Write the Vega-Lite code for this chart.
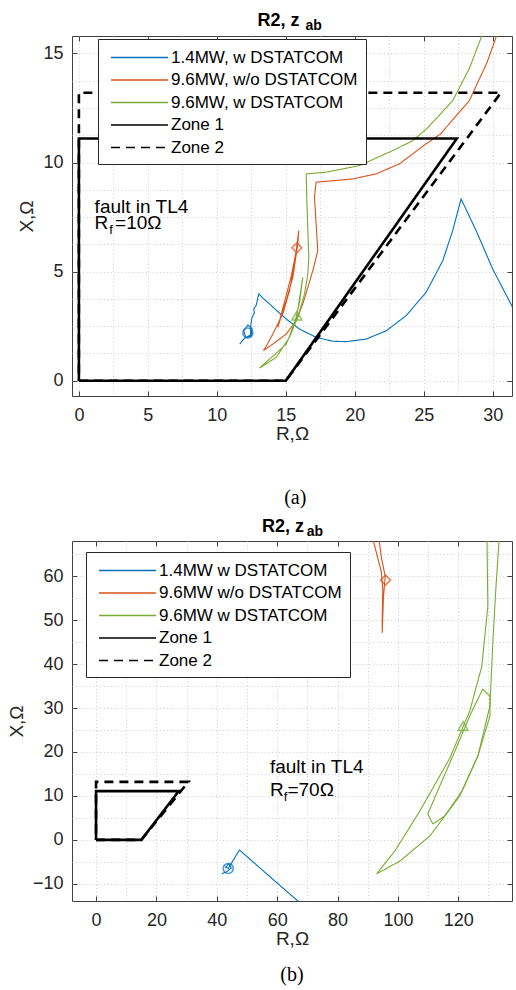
{
  "$schema": "https://vega.github.io/schema/vega-lite/v6.json",
  "padding": {"left": 6, "top": 11, "right": 4, "bottom": 2},
  "autosize": {"type": "pad"},
  "background": "white",
  "config": {
    "font": "Liberation Sans",
    "view": {"stroke": "#404040", "strokeWidth": 1},
    "axis": {
      "labelFont": "Liberation Sans", "labelFontSize": 18, "labelColor": "#262626",
      "titleFont": "Liberation Sans", "titleFontSize": 19, "titleFontWeight": "normal", "titleColor": "#262626",
      "domain": false, "tickColor": "#404040", "tickSize": -5, "tickWidth": 1,
      "gridColor": "#cfcfcf", "gridDash": [1, 2.5], "gridWidth": 1
    },
    "legend": {
      "orient": "none", "title": null, "fillColor": "white", "strokeColor": "#262626",
      "padding": 8, "labelFont": "Liberation Sans", "labelFontSize": 17, "labelColor": "#000", "labelLimit": 400,
      "symbolType": "M-1,0H5", "symbolSize": 361, "symbolStrokeWidth": 1.6, "labelOffset": 40, "rowPadding": 3.5, "symbolOffset": 4
    }
  },
  "datasets": {
    "zones": [
      {"series": "Zone 1", "R": 0, "X": 0, "o": 0},
      {"series": "Zone 1", "R": 15, "X": 0, "o": 1},
      {"series": "Zone 1", "R": 27.4, "X": 11.1, "o": 2},
      {"series": "Zone 1", "R": 0, "X": 11.1, "o": 3},
      {"series": "Zone 1", "R": 0, "X": 0, "o": 4},
      {"series": "Zone 2", "R": 0, "X": 0, "o": 0},
      {"series": "Zone 2", "R": 15, "X": 0, "o": 1},
      {"series": "Zone 2", "R": 30.6, "X": 13.2, "o": 2},
      {"series": "Zone 2", "R": 0, "X": 13.2, "o": 3},
      {"series": "Zone 2", "R": 0, "X": 0, "o": 4}
    ],
    "curvesA": [
      {"series": "1.4MW, w DSTATCOM", "seg": 0, "R": 11.66, "X": 1.68, "o": 0},
      {"series": "1.4MW, w DSTATCOM", "seg": 0, "R": 12.0, "X": 1.95, "o": 1},
      {"series": "1.4MW, w DSTATCOM", "seg": 0, "R": 12.5, "X": 2.05, "o": 2},
      {"series": "1.4MW, w DSTATCOM", "seg": 0, "R": 12.55, "X": 2.4, "o": 3},
      {"series": "1.4MW, w DSTATCOM", "seg": 0, "R": 12.25, "X": 2.55, "o": 4},
      {"series": "1.4MW, w DSTATCOM", "seg": 0, "R": 11.95, "X": 2.3, "o": 5},
      {"series": "1.4MW, w DSTATCOM", "seg": 0, "R": 12.1, "X": 1.98, "o": 6},
      {"series": "1.4MW, w DSTATCOM", "seg": 0, "R": 12.45, "X": 2.1, "o": 7},
      {"series": "1.4MW, w DSTATCOM", "seg": 0, "R": 12.45, "X": 2.5, "o": 8},
      {"series": "1.4MW, w DSTATCOM", "seg": 0, "R": 12.55, "X": 2.9, "o": 9},
      {"series": "1.4MW, w DSTATCOM", "seg": 0, "R": 12.72, "X": 3.1, "o": 10},
      {"series": "1.4MW, w DSTATCOM", "seg": 0, "R": 12.68, "X": 3.3, "o": 11},
      {"series": "1.4MW, w DSTATCOM", "seg": 0, "R": 12.85, "X": 3.45, "o": 12},
      {"series": "1.4MW, w DSTATCOM", "seg": 0, "R": 13.04, "X": 3.98, "o": 13},
      {"series": "1.4MW, w DSTATCOM", "seg": 0, "R": 13.4, "X": 3.75, "o": 14},
      {"series": "1.4MW, w DSTATCOM", "seg": 0, "R": 13.82, "X": 3.52, "o": 15},
      {"series": "1.4MW, w DSTATCOM", "seg": 0, "R": 14.4, "X": 3.18, "o": 16},
      {"series": "1.4MW, w DSTATCOM", "seg": 0, "R": 15.03, "X": 2.83, "o": 17},
      {"series": "1.4MW, w DSTATCOM", "seg": 0, "R": 15.99, "X": 2.37, "o": 18},
      {"series": "1.4MW, w DSTATCOM", "seg": 0, "R": 17.2, "X": 1.99, "o": 19},
      {"series": "1.4MW, w DSTATCOM", "seg": 0, "R": 18.41, "X": 1.81, "o": 20},
      {"series": "1.4MW, w DSTATCOM", "seg": 0, "R": 19.38, "X": 1.79, "o": 21},
      {"series": "1.4MW, w DSTATCOM", "seg": 0, "R": 20.83, "X": 1.91, "o": 22},
      {"series": "1.4MW, w DSTATCOM", "seg": 0, "R": 22.28, "X": 2.29, "o": 23},
      {"series": "1.4MW, w DSTATCOM", "seg": 0, "R": 23.72, "X": 2.98, "o": 24},
      {"series": "1.4MW, w DSTATCOM", "seg": 0, "R": 25.17, "X": 4.05, "o": 25},
      {"series": "1.4MW, w DSTATCOM", "seg": 0, "R": 26.38, "X": 5.5, "o": 26},
      {"series": "1.4MW, w DSTATCOM", "seg": 0, "R": 27.1, "X": 6.88, "o": 27},
      {"series": "1.4MW, w DSTATCOM", "seg": 0, "R": 27.71, "X": 8.33, "o": 28},
      {"series": "1.4MW, w DSTATCOM", "seg": 0, "R": 28.8, "X": 6.88, "o": 29},
      {"series": "1.4MW, w DSTATCOM", "seg": 0, "R": 30.0, "X": 5.12, "o": 30},
      {"series": "1.4MW, w DSTATCOM", "seg": 0, "R": 31.57, "X": 3.21, "o": 31},

      {"series": "9.6MW, w/o DSTATCOM", "seg": 0, "R": 30.5, "X": 16.2, "o": 0},
      {"series": "9.6MW, w/o DSTATCOM", "seg": 0, "R": 29.6, "X": 14.6, "o": 1},
      {"series": "9.6MW, w/o DSTATCOM", "seg": 0, "R": 28.31, "X": 12.84, "o": 2},
      {"series": "9.6MW, w/o DSTATCOM", "seg": 0, "R": 26.2, "X": 11.3, "o": 3},
      {"series": "9.6MW, w/o DSTATCOM", "seg": 0, "R": 25.17, "X": 10.86, "o": 4},
      {"series": "9.6MW, w/o DSTATCOM", "seg": 0, "R": 23.24, "X": 9.94, "o": 5},
      {"series": "9.6MW, w/o DSTATCOM", "seg": 0, "R": 21.55, "X": 9.48, "o": 6},
      {"series": "9.6MW, w/o DSTATCOM", "seg": 0, "R": 19.86, "X": 9.25, "o": 7},
      {"series": "9.6MW, w/o DSTATCOM", "seg": 0, "R": 17.93, "X": 9.14, "o": 8},
      {"series": "9.6MW, w/o DSTATCOM", "seg": 0, "R": 17.2, "X": 9.1, "o": 9},
      {"series": "9.6MW, w/o DSTATCOM", "seg": 0, "R": 17.08, "X": 8.41, "o": 10},
      {"series": "9.6MW, w/o DSTATCOM", "seg": 0, "R": 17.2, "X": 7.19, "o": 11},
      {"series": "9.6MW, w/o DSTATCOM", "seg": 0, "R": 17.32, "X": 5.96, "o": 12},
      {"series": "9.6MW, w/o DSTATCOM", "seg": 0, "R": 16.96, "X": 5.05, "o": 13},
      {"series": "9.6MW, w/o DSTATCOM", "seg": 0, "R": 16.6, "X": 4.28, "o": 14},
      {"series": "9.6MW, w/o DSTATCOM", "seg": 0, "R": 16.23, "X": 3.52, "o": 15},
      {"series": "9.6MW, w/o DSTATCOM", "seg": 0, "R": 15.75, "X": 2.75, "o": 16},
      {"series": "9.6MW, w/o DSTATCOM", "seg": 0, "R": 15.03, "X": 2.14, "o": 17},
      {"series": "9.6MW, w/o DSTATCOM", "seg": 0, "R": 14.06, "X": 1.68, "o": 18},
      {"series": "9.6MW, w/o DSTATCOM", "seg": 0, "R": 13.38, "X": 1.38, "o": 19},
      {"series": "9.6MW, w/o DSTATCOM", "seg": 0, "R": 13.6, "X": 1.6, "o": 20},
      {"series": "9.6MW, w/o DSTATCOM", "seg": 0, "R": 14.06, "X": 2.14, "o": 21},
      {"series": "9.6MW, w/o DSTATCOM", "seg": 0, "R": 14.78, "X": 3.06, "o": 22},
      {"series": "9.6MW, w/o DSTATCOM", "seg": 0, "R": 15.27, "X": 4.13, "o": 23},
      {"series": "9.6MW, w/o DSTATCOM", "seg": 0, "R": 15.63, "X": 5.35, "o": 24},
      {"series": "9.6MW, w/o DSTATCOM", "seg": 0, "R": 15.94, "X": 6.88, "o": 25},
      {"series": "9.6MW, w/o DSTATCOM", "seg": 0, "R": 15.87, "X": 6.27, "o": 26},
      {"series": "9.6MW, w/o DSTATCOM", "seg": 0, "R": 15.51, "X": 4.74, "o": 27},
      {"series": "9.6MW, w/o DSTATCOM", "seg": 0, "R": 15.03, "X": 3.67, "o": 28},
      {"series": "9.6MW, w/o DSTATCOM", "seg": 0, "R": 14.42, "X": 2.45, "o": 29},
      {"series": "9.6MW, w/o DSTATCOM", "seg": 0, "R": 14.9, "X": 3.6, "o": 30},
      {"series": "9.6MW, w/o DSTATCOM", "seg": 0, "R": 15.4, "X": 4.8, "o": 31},
      {"series": "9.6MW, w/o DSTATCOM", "seg": 0, "R": 15.8, "X": 6.09, "o": 32},

      {"series": "9.6MW, w DSTATCOM", "seg": 0, "R": 29.45, "X": 16.2, "o": 0},
      {"series": "9.6MW, w DSTATCOM", "seg": 0, "R": 28.3, "X": 14.3, "o": 1},
      {"series": "9.6MW, w DSTATCOM", "seg": 0, "R": 27.1, "X": 12.84, "o": 2},
      {"series": "9.6MW, w DSTATCOM", "seg": 0, "R": 25.3, "X": 11.6, "o": 3},
      {"series": "9.6MW, w DSTATCOM", "seg": 0, "R": 24.2, "X": 11.0, "o": 4},
      {"series": "9.6MW, w DSTATCOM", "seg": 0, "R": 22.75, "X": 10.55, "o": 5},
      {"series": "9.6MW, w DSTATCOM", "seg": 0, "R": 20.34, "X": 9.86, "o": 6},
      {"series": "9.6MW, w DSTATCOM", "seg": 0, "R": 17.93, "X": 9.56, "o": 7},
      {"series": "9.6MW, w DSTATCOM", "seg": 0, "R": 16.48, "X": 9.48, "o": 8},
      {"series": "9.6MW, w DSTATCOM", "seg": 0, "R": 16.52, "X": 8.41, "o": 9},
      {"series": "9.6MW, w DSTATCOM", "seg": 0, "R": 16.6, "X": 6.88, "o": 10},
      {"series": "9.6MW, w DSTATCOM", "seg": 0, "R": 16.67, "X": 5.66, "o": 11},
      {"series": "9.6MW, w DSTATCOM", "seg": 0, "R": 16.6, "X": 4.9, "o": 12},
      {"series": "9.6MW, w DSTATCOM", "seg": 0, "R": 16.36, "X": 3.98, "o": 13},
      {"series": "9.6MW, w DSTATCOM", "seg": 0, "R": 15.87, "X": 2.91, "o": 14},
      {"series": "9.6MW, w DSTATCOM", "seg": 0, "R": 15.27, "X": 1.99, "o": 15},
      {"series": "9.6MW, w DSTATCOM", "seg": 0, "R": 14.3, "X": 1.07, "o": 16},
      {"series": "9.6MW, w DSTATCOM", "seg": 0, "R": 13.1, "X": 0.58, "o": 17},
      {"series": "9.6MW, w DSTATCOM", "seg": 0, "R": 13.3, "X": 0.7, "o": 18},
      {"series": "9.6MW, w DSTATCOM", "seg": 0, "R": 14.2, "X": 1.2, "o": 19},
      {"series": "9.6MW, w DSTATCOM", "seg": 0, "R": 15.03, "X": 1.68, "o": 20},
      {"series": "9.6MW, w DSTATCOM", "seg": 0, "R": 15.75, "X": 2.75, "o": 21},
      {"series": "9.6MW, w DSTATCOM", "seg": 0, "R": 16.23, "X": 4.74, "o": 22},
      {"series": "9.6MW, w DSTATCOM", "seg": 0, "R": 16.0, "X": 3.6, "o": 23},
      {"series": "9.6MW, w DSTATCOM", "seg": 0, "R": 15.6, "X": 2.5, "o": 24},
      {"series": "9.6MW, w DSTATCOM", "seg": 0, "R": 15.3, "X": 2.1, "o": 25},
      {"series": "9.6MW, w DSTATCOM", "seg": 0, "R": 15.8, "X": 2.98, "o": 26}
    ],
    "markersA": [
      {"series": "1.4MW, w DSTATCOM", "R": 12.25, "X": 2.19},
      {"series": "9.6MW, w/o DSTATCOM", "R": 15.8, "X": 6.09},
      {"series": "9.6MW, w DSTATCOM", "R": 15.8, "X": 2.98}
    ],
    "textA": [
      {"t": "fault in TL4", "R": 1.14, "X": 7.7, "k": "line"},
      {"t": "R", "R": 1.14, "X": 6.97, "k": "line"},
      {"t": "f", "R": 2.2, "X": 6.74, "k": "sub"},
      {"t": "=10Ω", "R": 2.62, "X": 6.97, "k": "line"},
      {"t": "R2, z", "R": 12.95, "X": 16.28, "k": "title"},
      {"t": "ab", "R": 16.43, "X": 16.08, "k": "titlesub"}
    ],
    "curvesB": [
      {"series": "1.4MW w DSTATCOM", "seg": 0, "R": 41.6, "X": -7.7, "o": 0},
      {"series": "1.4MW w DSTATCOM", "seg": 0, "R": 43.2, "X": -7.3, "o": 1},
      {"series": "1.4MW w DSTATCOM", "seg": 0, "R": 44.8, "X": -6.4, "o": 2},
      {"series": "1.4MW w DSTATCOM", "seg": 0, "R": 44.0, "X": -5.4, "o": 3},
      {"series": "1.4MW w DSTATCOM", "seg": 0, "R": 42.9, "X": -6.2, "o": 4},
      {"series": "1.4MW w DSTATCOM", "seg": 0, "R": 43.8, "X": -6.5, "o": 5},
      {"series": "1.4MW w DSTATCOM", "seg": 0, "R": 47.5, "X": -2.3, "o": 6},
      {"series": "1.4MW w DSTATCOM", "seg": 0, "R": 70.0, "X": -15.8, "o": 7},

      {"series": "9.6MW w/o DSTATCOM", "seg": 0, "R": 91.5, "X": 69.0, "o": 0},
      {"series": "9.6MW w/o DSTATCOM", "seg": 0, "R": 93.0, "X": 65.0, "o": 1},
      {"series": "9.6MW w/o DSTATCOM", "seg": 0, "R": 94.5, "X": 61.0, "o": 2},
      {"series": "9.6MW w/o DSTATCOM", "seg": 0, "R": 95.0, "X": 57.0, "o": 3},
      {"series": "9.6MW w/o DSTATCOM", "seg": 0, "R": 94.8, "X": 50.0, "o": 4},
      {"series": "9.6MW w/o DSTATCOM", "seg": 0, "R": 94.8, "X": 47.1, "o": 5},
      {"series": "9.6MW w/o DSTATCOM", "seg": 0, "R": 95.2, "X": 55.0, "o": 6},
      {"series": "9.6MW w/o DSTATCOM", "seg": 0, "R": 95.8, "X": 60.0, "o": 7},
      {"series": "9.6MW w/o DSTATCOM", "seg": 0, "R": 94.6, "X": 64.0, "o": 8},
      {"series": "9.6MW w/o DSTATCOM", "seg": 0, "R": 93.6, "X": 69.0, "o": 9},

      {"series": "9.6MW w DSTATCOM", "seg": 0, "R": 129.5, "X": 69.0, "o": 0},
      {"series": "9.6MW w DSTATCOM", "seg": 0, "R": 129.8, "X": 53.2, "o": 1},
      {"series": "9.6MW w DSTATCOM", "seg": 0, "R": 127.8, "X": 39.5, "o": 2},
      {"series": "9.6MW w DSTATCOM", "seg": 0, "R": 123.8, "X": 29.3, "o": 3},
      {"series": "9.6MW w DSTATCOM", "seg": 0, "R": 117.2, "X": 18.6, "o": 4},
      {"series": "9.6MW w DSTATCOM", "seg": 0, "R": 107.3, "X": 6.6, "o": 5},
      {"series": "9.6MW w DSTATCOM", "seg": 0, "R": 99.0, "X": -2.5, "o": 6},
      {"series": "9.6MW w DSTATCOM", "seg": 0, "R": 93.0, "X": -7.7, "o": 7},
      {"series": "9.6MW w DSTATCOM", "seg": 0, "R": 100.7, "X": -4.8, "o": 8},
      {"series": "9.6MW w DSTATCOM", "seg": 0, "R": 110.6, "X": 0.9, "o": 9},
      {"series": "9.6MW w DSTATCOM", "seg": 0, "R": 120.5, "X": 10.0, "o": 10},
      {"series": "9.6MW w DSTATCOM", "seg": 0, "R": 126.5, "X": 19.1, "o": 11},
      {"series": "9.6MW w DSTATCOM", "seg": 0, "R": 130.5, "X": 30.5, "o": 12},
      {"series": "9.6MW w DSTATCOM", "seg": 0, "R": 131.5, "X": 45.7, "o": 13},
      {"series": "9.6MW w DSTATCOM", "seg": 0, "R": 132.5, "X": 57.7, "o": 14},
      {"series": "9.6MW w DSTATCOM", "seg": 0, "R": 133.6, "X": 69.0, "o": 15},
      {"series": "9.6MW w DSTATCOM", "seg": 1, "R": 111.6, "X": 3.6, "o": 0},
      {"series": "9.6MW w DSTATCOM", "seg": 1, "R": 109.9, "X": 5.9, "o": 1},
      {"series": "9.6MW w DSTATCOM", "seg": 1, "R": 113.9, "X": 12.3, "o": 2},
      {"series": "9.6MW w DSTATCOM", "seg": 1, "R": 118.9, "X": 20.2, "o": 3},
      {"series": "9.6MW w DSTATCOM", "seg": 1, "R": 123.8, "X": 28.2, "o": 4},
      {"series": "9.6MW w DSTATCOM", "seg": 1, "R": 128.1, "X": 34.3, "o": 5},
      {"series": "9.6MW w DSTATCOM", "seg": 1, "R": 130.5, "X": 32.7, "o": 6},
      {"series": "9.6MW w DSTATCOM", "seg": 1, "R": 130.5, "X": 28.2, "o": 7},
      {"series": "9.6MW w DSTATCOM", "seg": 1, "R": 126.5, "X": 19.1, "o": 8},
      {"series": "9.6MW w DSTATCOM", "seg": 1, "R": 121.2, "X": 11.1, "o": 9},
      {"series": "9.6MW w DSTATCOM", "seg": 1, "R": 115.6, "X": 5.5, "o": 10},
      {"series": "9.6MW w DSTATCOM", "seg": 1, "R": 111.6, "X": 3.6, "o": 11}
    ],
    "markersB": [
      {"series": "1.4MW w DSTATCOM", "R": 43.8, "X": -6.5},
      {"series": "9.6MW w/o DSTATCOM", "R": 95.9, "X": 59.1},
      {"series": "9.6MW w DSTATCOM", "R": 121.6, "X": 25.9}
    ],
    "textB": [
      {"t": "fault in TL4", "R": 57.6, "X": 15.2, "k": "line"},
      {"t": "R", "R": 57.6, "X": 10.0, "k": "line"},
      {"t": "f", "R": 62.2, "X": 8.9, "k": "sub"},
      {"t": "=70Ω", "R": 63.4, "X": 10.0, "k": "line"},
      {"t": "R2, z", "R": 55.0, "X": 70.0, "k": "title"},
      {"t": "ab", "R": 69.8, "X": 69.2, "k": "titlesub"}
    ]
  },
  "resolve": {
    "scale": {"color": "independent", "strokeDash": "independent", "shape": "independent"},
    "legend": {"color": "independent", "strokeDash": "independent", "shape": "independent"}
  },
  "columns": 1,
  "align": "none",
  "spacing": 9,
  "concat": [
    {
      "title": {"text": "(a)", "orient": "bottom", "anchor": "middle", "font": "Liberation Serif", "fontSize": 20, "fontWeight": "normal", "color": "#000", "offset": 44, "dx": 30},
      "vconcat": [
        {
          "width": 440,
          "height": 360,
          "resolve": {"axis": {"x": "independent", "y": "independent"}},
          "layer": [
            {
              "data": {"name": "curvesA"},
              "mark": {"type": "line", "clip": true, "strokeWidth": 1.1},
              "encoding": {
                "x": {"field": "R", "type": "quantitative", "title": "R,Ω",
                  "scale": {"domain": [-0.5, 31.4], "nice": false, "zero": false},
                  "axis": {"orient": "bottom", "values": [0, 2.5, 5, 7.5, 10, 12.5, 15, 17.5, 20, 22.5, 25, 27.5, 30],
                    "labelExpr": "datum.value % 5 === 0 ? datum.label : ''",
                    "tickOpacity": {"condition": {"test": "datum.value % 5 !== 0", "value": 0}, "value": 1},
                    "grid": true, "labelPadding": 15, "titlePadding": 0}},
                "y": {"field": "X", "type": "quantitative", "title": "X,Ω",
                  "scale": {"domain": [-0.7, 15.8], "nice": false, "zero": false},
                  "axis": {"orient": "left", "values": [0, 1.25, 2.5, 3.75, 5, 6.25, 7.5, 8.75, 10, 11.25, 12.5, 13.75, 15],
                    "labelExpr": "datum.value % 5 === 0 ? datum.label : ''",
                    "tickOpacity": {"condition": {"test": "datum.value % 5 !== 0", "value": 0}, "value": 1},
                    "grid": true, "labelPadding": 14, "titlePadding": 6}},
                "order": {"field": "o", "type": "quantitative"},
                "detail": {"field": "seg", "type": "nominal"},
                "color": {"field": "series", "type": "nominal",
                  "scale": {"domain": ["1.4MW, w DSTATCOM", "9.6MW, w/o DSTATCOM", "9.6MW, w DSTATCOM", "Zone 1", "Zone 2"],
                    "range": ["#0072BD", "#D95319", "#77AC30", "#000000", "#000000"]},
                  "legend": {"legendX": 26, "legendY": 3}},
                "strokeDash": {"field": "series", "type": "nominal",
                  "scale": {"domain": ["1.4MW, w DSTATCOM", "9.6MW, w/o DSTATCOM", "9.6MW, w DSTATCOM", "Zone 1", "Zone 2"],
                    "range": [[1, 0], [1, 0], [1, 0], [1, 0], [9, 6]]},
                  "legend": {"legendX": 26, "legendY": 3}}
              }
            },
            {
              "data": {"name": "zones"},
              "mark": {"type": "line", "clip": true, "strokeWidth": 2.6},
              "encoding": {
                "x": {"field": "R", "type": "quantitative",
                  "axis": {"orient": "top", "values": [0, 5, 10, 15, 20, 25, 30], "labels": false, "grid": false, "title": null}},
                "y": {"field": "X", "type": "quantitative",
                  "axis": {"orient": "right", "values": [0, 5, 10, 15], "labels": false, "grid": false, "title": null}},
                "order": {"field": "o", "type": "quantitative"},
                "color": {"field": "series", "type": "nominal"},
                "strokeDash": {"field": "series", "type": "nominal"}
              }
            },
            {
              "data": {"name": "markersA"},
              "mark": {"type": "point", "filled": false, "strokeWidth": 1.6, "size": 100, "clip": true},
              "encoding": {
                "x": {"field": "R", "type": "quantitative", "axis": null},
                "y": {"field": "X", "type": "quantitative", "axis": null},
                "color": {"field": "series", "type": "nominal", "legend": null},
                "shape": {"field": "series", "type": "nominal", "legend": null,
                  "scale": {"domain": ["1.4MW, w DSTATCOM", "9.6MW, w/o DSTATCOM", "9.6MW, w DSTATCOM"], "range": ["circle", "diamond", "triangle-up"]}}
              }
            },
            {
              "data": {"name": "textA"},
              "transform": [{"filter": "datum.k === 'line'"}],
              "mark": {"type": "text", "align": "left", "baseline": "alphabetic", "fontSize": 19, "font": "Liberation Sans", "color": "#000"},
              "encoding": {
                "x": {"field": "R", "type": "quantitative", "axis": null},
                "y": {"field": "X", "type": "quantitative", "axis": null},
                "text": {"field": "t"}
              }
            },
            {
              "data": {"name": "textA"},
              "transform": [{"filter": "datum.k === 'sub'"}],
              "mark": {"type": "text", "align": "left", "baseline": "alphabetic", "fontSize": 13, "font": "Liberation Sans", "color": "#000"},
              "encoding": {
                "x": {"field": "R", "type": "quantitative", "axis": null},
                "y": {"field": "X", "type": "quantitative", "axis": null},
                "text": {"field": "t"}
              }
            },
            {
              "data": {"name": "textA"},
              "transform": [{"filter": "datum.k === 'title'"}],
              "mark": {"type": "text", "align": "left", "baseline": "alphabetic", "fontSize": 18, "fontWeight": "bold", "font": "Liberation Sans", "color": "#000", "clip": false},
              "encoding": {
                "x": {"field": "R", "type": "quantitative", "axis": null},
                "y": {"field": "X", "type": "quantitative", "axis": null},
                "text": {"field": "t"}
              }
            },
            {
              "data": {"name": "textA"},
              "transform": [{"filter": "datum.k === 'titlesub'"}],
              "mark": {"type": "text", "align": "left", "baseline": "alphabetic", "fontSize": 14, "fontWeight": "bold", "font": "Liberation Sans", "color": "#000", "clip": false},
              "encoding": {
                "x": {"field": "R", "type": "quantitative", "axis": null},
                "y": {"field": "X", "type": "quantitative", "axis": null},
                "text": {"field": "t"}
              }
            }
          ]
        }
      ]
    },
    {
      "title": {"text": "(b)", "orient": "bottom", "anchor": "middle", "font": "Liberation Serif", "fontSize": 20, "fontWeight": "normal", "color": "#000", "offset": 16, "dx": 32},
      "vconcat": [
        {
          "width": 440,
          "height": 360,
          "resolve": {"axis": {"x": "independent", "y": "independent"}},
          "layer": [
            {
              "data": {"name": "curvesB"},
              "mark": {"type": "line", "clip": true, "strokeWidth": 1.1},
              "encoding": {
                "x": {"field": "R", "type": "quantitative", "title": "R,Ω",
                  "scale": {"domain": [-7.96, 137.8], "nice": false, "zero": false},
                  "axis": {"orient": "bottom", "values": [0, 10, 20, 30, 40, 50, 60, 70, 80, 90, 100, 110, 120, 130],
                    "labelExpr": "datum.value % 20 === 0 ? datum.label : ''",
                    "tickOpacity": {"condition": {"test": "datum.value % 20 !== 0", "value": 0}, "value": 1},
                    "grid": true, "labelPadding": 15, "titlePadding": 0}},
                "y": {"field": "X", "type": "quantitative", "title": "X,Ω",
                  "scale": {"domain": [-13.9, 68], "nice": false, "zero": false},
                  "axis": {"orient": "left", "values": [-10, -5, 0, 5, 10, 15, 20, 25, 30, 35, 40, 45, 50, 55, 60, 65],
                    "labelExpr": "datum.value % 10 === 0 ? datum.label : ''",
                    "tickOpacity": {"condition": {"test": "datum.value % 10 !== 0", "value": 0}, "value": 1},
                    "grid": true, "labelPadding": 14, "titlePadding": 6}},
                "order": {"field": "o", "type": "quantitative"},
                "detail": {"field": "seg", "type": "nominal"},
                "color": {"field": "series", "type": "nominal",
                  "scale": {"domain": ["1.4MW w DSTATCOM", "9.6MW w/o DSTATCOM", "9.6MW w DSTATCOM", "Zone 1", "Zone 2"],
                    "range": ["#0072BD", "#D95319", "#77AC30", "#000000", "#000000"]},
                  "legend": {"legendX": 14, "legendY": 11}},
                "strokeDash": {"field": "series", "type": "nominal",
                  "scale": {"domain": ["1.4MW w DSTATCOM", "9.6MW w/o DSTATCOM", "9.6MW w DSTATCOM", "Zone 1", "Zone 2"],
                    "range": [[1, 0], [1, 0], [1, 0], [1, 0], [9, 6]]},
                  "legend": {"legendX": 14, "legendY": 11}}
              }
            },
            {
              "data": {"name": "zones"},
              "mark": {"type": "line", "clip": true, "strokeWidth": 2.6},
              "encoding": {
                "x": {"field": "R", "type": "quantitative",
                  "axis": {"orient": "top", "values": [0, 20, 40, 60, 80, 100, 120], "labels": false, "grid": false, "title": null}},
                "y": {"field": "X", "type": "quantitative",
                  "axis": {"orient": "right", "values": [-10, 0, 10, 20, 30, 40, 50, 60], "labels": false, "grid": false, "title": null}},
                "order": {"field": "o", "type": "quantitative"},
                "color": {"field": "series", "type": "nominal"},
                "strokeDash": {"field": "series", "type": "nominal"}
              }
            },
            {
              "data": {"name": "markersB"},
              "mark": {"type": "point", "filled": false, "strokeWidth": 1.6, "size": 100, "clip": true},
              "encoding": {
                "x": {"field": "R", "type": "quantitative", "axis": null},
                "y": {"field": "X", "type": "quantitative", "axis": null},
                "color": {"field": "series", "type": "nominal", "legend": null},
                "shape": {"field": "series", "type": "nominal", "legend": null,
                  "scale": {"domain": ["1.4MW w DSTATCOM", "9.6MW w/o DSTATCOM", "9.6MW w DSTATCOM"], "range": ["circle", "diamond", "triangle-up"]}}
              }
            },
            {
              "data": {"name": "textB"},
              "transform": [{"filter": "datum.k === 'line'"}],
              "mark": {"type": "text", "align": "left", "baseline": "alphabetic", "fontSize": 19, "font": "Liberation Sans", "color": "#000"},
              "encoding": {
                "x": {"field": "R", "type": "quantitative", "axis": null},
                "y": {"field": "X", "type": "quantitative", "axis": null},
                "text": {"field": "t"}
              }
            },
            {
              "data": {"name": "textB"},
              "transform": [{"filter": "datum.k === 'sub'"}],
              "mark": {"type": "text", "align": "left", "baseline": "alphabetic", "fontSize": 13, "font": "Liberation Sans", "color": "#000"},
              "encoding": {
                "x": {"field": "R", "type": "quantitative", "axis": null},
                "y": {"field": "X", "type": "quantitative", "axis": null},
                "text": {"field": "t"}
              }
            },
            {
              "data": {"name": "textB"},
              "transform": [{"filter": "datum.k === 'title'"}],
              "mark": {"type": "text", "align": "left", "baseline": "alphabetic", "fontSize": 18, "fontWeight": "bold", "font": "Liberation Sans", "color": "#000", "clip": false},
              "encoding": {
                "x": {"field": "R", "type": "quantitative", "axis": null},
                "y": {"field": "X", "type": "quantitative", "axis": null},
                "text": {"field": "t"}
              }
            },
            {
              "data": {"name": "textB"},
              "transform": [{"filter": "datum.k === 'titlesub'"}],
              "mark": {"type": "text", "align": "left", "baseline": "alphabetic", "fontSize": 14, "fontWeight": "bold", "font": "Liberation Sans", "color": "#000", "clip": false},
              "encoding": {
                "x": {"field": "R", "type": "quantitative", "axis": null},
                "y": {"field": "X", "type": "quantitative", "axis": null},
                "text": {"field": "t"}
              }
            }
          ]
        }
      ]
    }
  ]
}
